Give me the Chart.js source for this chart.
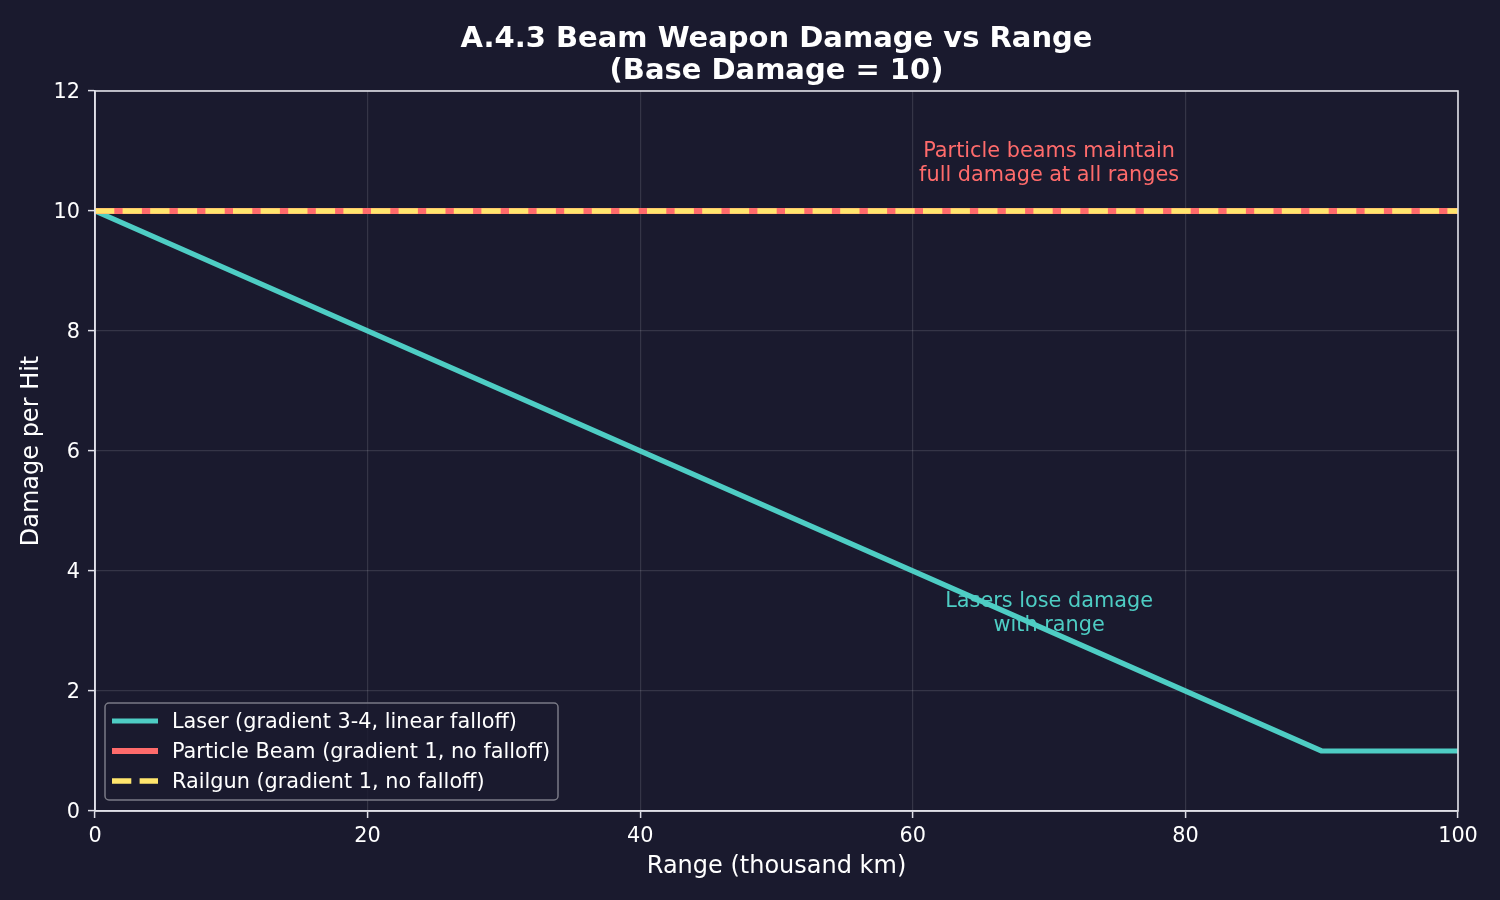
<!DOCTYPE html>
<html>
<head>
<meta charset="utf-8">
<script src="https://cdn.jsdelivr.net/npm/chart.js@4/dist/chart.umd.min.js"></script>
<style>
html,body{margin:0;padding:0;background:#1a1a2e;}
#wrap{width:1500px;height:900px;}
</style>
</head>
<body>
<div id="wrap"><canvas id="c" width="1500" height="900"></canvas></div>
<script>
const titleLines = ["A.4.3 Beam Weapon Damage vs Range", "(Base Damage = 10)"];
const xTicks = [0, 20, 40, 60, 80, 100];
const yTicks = [0, 2, 4, 6, 8, 10, 12];
const laserRange = [0, 90, 100];
const laserDamage = [10, 1, 1];
const particleRange = [0, 100];
const particleDamage = [10, 10];
const railgunRange = [0, 100];
const railgunDamage = [10, 10];
const seriesLabels = ["Laser (gradient 3-4, linear falloff)", "Particle Beam (gradient 1, no falloff)", "Railgun (gradient 1, no falloff)"];
const noteParticle = { x: 70, y: 10.83, lines: ["Particle beams maintain", "full damage at all ranges"] };
const noteLaser = { x: 70, y: 3.33, lines: ["Lasers lose damage", "with range"] };

const BG = '#1a1a2e';
const TEAL = '#4ecdc4', RED = '#ff6b6b', YELLOW = '#ffe66d';
const SPINE = '#e0e0e8';
const FONT = "'DejaVu Sans', 'Liberation Sans', sans-serif";

function pts(xs, ys) { return xs.map((x, i) => ({ x: x, y: ys[i] })); }

const bgPlugin = {
  id: 'bg',
  beforeDraw(chart) {
    const ctx = chart.ctx;
    ctx.save();
    ctx.fillStyle = BG;
    ctx.fillRect(0, 0, chart.width, chart.height);
    ctx.restore();
  },
  beforeDatasetsDraw(chart) {
    const ctx = chart.ctx, xs = chart.scales.x, ys = chart.scales.y;
    ctx.save();
    ctx.font = "20.8px " + FONT;
    ctx.textAlign = 'center';
    ctx.textBaseline = 'middle';
    [[noteParticle, RED], [noteLaser, TEAL]].forEach(([n, col]) => {
      const cx = xs.getPixelForValue(n.x), cy = ys.getPixelForValue(n.y) + 2;
      const lh = 24;
      ctx.fillStyle = col;
      n.lines.forEach((t, i) => {
        ctx.fillText(t, cx, cy + (i - (n.lines.length - 1) / 2) * lh);
      });
    });
    ctx.restore();
  },
  afterDraw(chart) {
    const ctx = chart.ctx, a = chart.chartArea;
    ctx.save();
    // spines
    ctx.strokeStyle = SPINE;
    ctx.lineWidth = 1.6;
    ctx.strokeRect(a.left, a.top, a.right - a.left, a.bottom - a.top);
    // title
    ctx.fillStyle = '#ffffff';
    ctx.font = "bold 29px " + FONT;
    ctx.textAlign = 'center';
    ctx.textBaseline = 'alphabetic';
    const cx = (a.left + a.right) / 2;
    ctx.fillText(titleLines[0], cx, 47);
    ctx.fillText(titleLines[1], cx, 79);
    // legend
    const lx = 105, ly = 703, lw = 453, lhgt = 97;
    ctx.beginPath();
    if (ctx.roundRect) ctx.roundRect(lx, ly, lw, lhgt, 4); else ctx.rect(lx, ly, lw, lhgt);
    ctx.fillStyle = 'rgba(26,26,46,0.8)';
    ctx.fill();
    ctx.strokeStyle = '#7a7a86';
    ctx.lineWidth = 1.5;
    ctx.stroke();
    const ds = chart.data.datasets;
    ctx.font = "20.8px " + FONT;
    ctx.textAlign = 'left';
    ctx.textBaseline = 'middle';
    ds.forEach((d, i) => {
      const y = 721 + i * 30;
      ctx.beginPath();
      ctx.setLineDash(d.borderDash || []);
      ctx.lineDashOffset = 0;
      ctx.strokeStyle = d.borderColor;
      ctx.lineWidth = d.borderWidth;
      ctx.lineCap = 'butt';
      ctx.moveTo(112, y);
      ctx.lineTo(158, y);
      ctx.stroke();
      ctx.setLineDash([]);
      ctx.fillStyle = '#ffffff';
      ctx.fillText(d.label, 172, y + 2);
    });
    ctx.restore();
  }
};

new Chart(document.getElementById('c'), {
  type: 'line',
  data: {
    datasets: [
      { label: seriesLabels[0], data: pts(laserRange, laserDamage), borderColor: TEAL, borderWidth: 5.2, pointRadius: 0, tension: 0, order: 2, borderJoinStyle: 'round' },
      { label: seriesLabels[1], data: pts(particleRange, particleDamage), borderColor: RED, borderWidth: 6, pointRadius: 0, tension: 0, order: 1 },
      { label: seriesLabels[2], data: pts(railgunRange, railgunDamage), borderColor: YELLOW, borderWidth: 5.4, borderDash: [19.3, 8.3], pointRadius: 0, tension: 0, order: 0, borderCapStyle: 'butt' }
    ]
  },
  options: {
    responsive: false,
    animation: false,
    devicePixelRatio: 1,
    layout: { padding: { left: 0, right: 42, top: 91, bottom: 0 } },
    plugins: { legend: { display: false }, title: { display: false }, tooltip: { enabled: false } },
    scales: {
      x: {
        type: 'linear', min: 0, max: 100,
        afterFit(s) { s.height = 89; },
        afterBuildTicks(s) { s.ticks = xTicks.map(v => ({ value: v })); },
        ticks: { color: '#ffffff', font: { family: FONT, size: 20.8 }, padding: 6, maxRotation: 0 },
        grid: { color: 'rgba(255,255,255,0.12)', lineWidth: 1.2, tickColor: SPINE, tickLength: 7, tickWidth: 1.5 },
        border: { color: SPINE, width: 1.6 },
        title: { display: true, text: 'Range (thousand km)', color: '#ffffff', font: { family: FONT, size: 24 }, padding: { top: 0, bottom: 19 } }
      },
      y: {
        type: 'linear', min: 0, max: 12,
        afterFit(s) { s.width = 95; },
        afterBuildTicks(s) { s.ticks = yTicks.map(v => ({ value: v })); },
        ticks: { color: '#ffffff', font: { family: FONT, size: 20.8 }, padding: 8, labelOffset: 1.5 },
        grid: { color: 'rgba(255,255,255,0.12)', lineWidth: 1.2, tickColor: SPINE, tickLength: 7, tickWidth: 1.5 },
        border: { color: SPINE, width: 1.6 },
        title: { display: true, text: 'Damage per Hit', color: '#ffffff', font: { family: FONT, size: 24 }, padding: { top: 17, bottom: 0 } }
      }
    }
  },
  plugins: [bgPlugin]
});
</script>
</body>
</html>
